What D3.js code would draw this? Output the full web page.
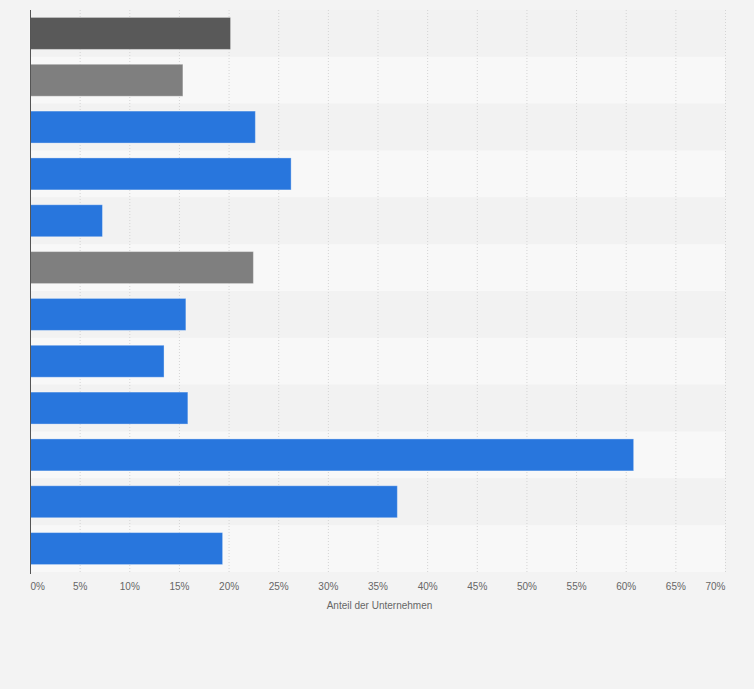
<!DOCTYPE html>
<html>
<head>
<meta charset="utf-8">
<script src="https://cdn.jsdelivr.net/npm/d3@7"></script>
<style>
  html, body { margin: 0; padding: 0; background: #f3f3f3; }
  #chart { width: 754px; height: 689px; }
  text { font-family: "Liberation Sans", Arial, sans-serif; }
</style>
</head>
<body>
<div id="chart"></div>
<script>
// categories have no visible labels in the picture, so they are just numbered
const categories = ["1", "2", "3", "4", "5", "6", "7", "8", "9", "10", "11", "12"];
const shares = [20.2, 15.4, 22.7, 26.3, 7.3, 22.5, 15.7, 13.5, 15.9, 60.8, 37.0, 19.4];
const barKinds = ["dark", "grey", "blue", "blue", "blue", "grey", "blue", "blue", "blue", "blue", "blue", "blue"];
const tickValues = [0, 5, 10, 15, 20, 25, 30, 35, 40, 45, 50, 55, 60, 65, 70];
const axisTitle = "Anteil der Unternehmen";

const kindColor = { dark: "#595959", grey: "#7f7f7f", blue: "#2876dd" };

const margin = { top: 10, right: 29, bottom: 117, left: 30 };
const width = 754, height = 689;
const chart_width = width - margin.left - margin.right;
const chart_height = height - margin.top - margin.bottom;

const svg = d3.select("#chart").append("svg")
    .attr("width", width)
    .attr("height", height);

const g = svg.append("g")
    .attr("transform", `translate(${margin.left},${margin.top})`);

const x = d3.scaleLinear().domain([0, 70]).range([0, chart_width]);
const y = d3.scaleBand().domain(categories).range([0, chart_height]).paddingInner(0).paddingOuter(0);

// alternating row bands
g.append("g")
    .selectAll("rect")
    .data(categories)
    .join("rect")
    .attr("x", 0)
    .attr("y", d => y(d))
    .attr("width", chart_width)
    .attr("height", y.bandwidth())
    .attr("fill", (d, i) => i % 2 === 0 ? "#f2f2f2" : "#f8f8f8");

// gridlines
g.append("g")
    .selectAll("line")
    .data(tickValues.slice(1))
    .join("line")
    .attr("x1", d => x(d) + 0.5)
    .attr("x2", d => x(d) + 0.5)
    .attr("y1", 0)
    .attr("y2", chart_height)
    .attr("stroke", "#d4d4d4")
    .attr("stroke-width", 1)
    .attr("stroke-dasharray", "1,2");

// bars
const barH = 32;
g.append("g")
    .selectAll("rect")
    .data(shares)
    .join("rect")
    .attr("x", 0)
    .attr("y", (d, i) => y(categories[i]) + (y.bandwidth() - barH) / 2)
    .attr("width", d => x(d))
    .attr("height", barH)
    .attr("fill", (d, i) => kindColor[barKinds[i]])
    .attr("stroke", "rgba(255,255,255,0.35)")
    .attr("stroke-width", 1);

// y axis line, no labels
g.append("g")
    .call(d3.axisLeft(y).tickSize(0).tickFormat(""))
    .call(a => a.select(".domain").attr("stroke", "#555").attr("d", `M0.5,0V${chart_height + 2}`));

// x axis labels
const xAxis = g.append("g")
    .attr("transform", `translate(0,${chart_height})`)
    .call(d3.axisBottom(x).tickValues(tickValues).tickSize(0).tickPadding(11).tickFormat(d => d + "%"));
xAxis.select(".domain").remove();
xAxis.selectAll("text")
    .attr("fill", "#666")
    .attr("font-size", "10px")
    .attr("text-anchor", (d, i) => i === 0 ? "start" : (i === tickValues.length - 1 ? "end" : "middle"));

g.append("text")
    .attr("x", chart_width / 2 + 2)
    .attr("y", chart_height + 37)
    .attr("text-anchor", "middle")
    .attr("fill", "#666")
    .attr("font-size", "10px")
    .text(axisTitle);
</script>
</body>
</html>
